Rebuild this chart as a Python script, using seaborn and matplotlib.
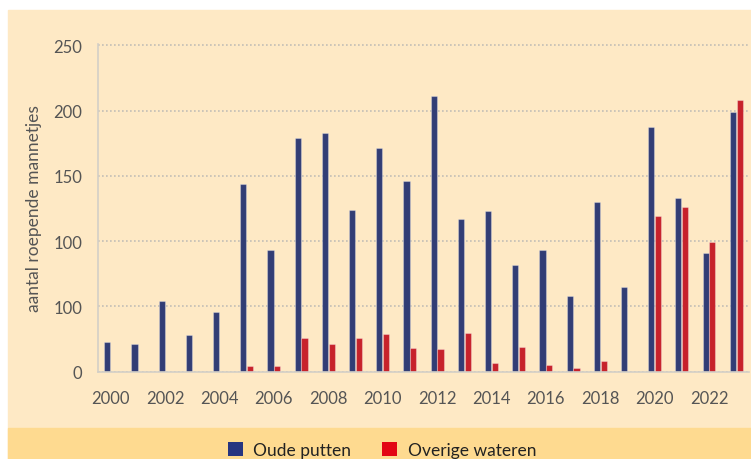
"""
Roepende mannetjes per jaar: oude putten vs overige wateren.
Writes out.png (751x460).
"""

import pandas as pd
import matplotlib
matplotlib.use("Agg")
import matplotlib.pyplot as plt
from matplotlib.patches import Rectangle, Patch
import seaborn as sns

YEARS = [str(y) for y in range(2000, 2024)]
OUDE_PUTTEN = [23, 21, 54, 28, 46, 144, 93, 179, 183, 124, 171, 146,
               211, 117, 123, 82, 93, 58, 130, 65, 187, 133, 91, 199]
OVERIGE_WATEREN = [0, 0, 0, 0, 0, 4, 4, 26, 21, 26, 29, 18,
                   17, 30, 7, 19, 5, 3, 8, 0, 119, 126, 99, 208]
SERIES = ["Oude putten", "Overige wateren"]
COLORS = ["#273580", "#E30613"]

YTICKS = [0, 50, 100, 150, 200, 250]
YTICK_LABELS = ["0", "100", "100", "150", "200", "250"]
XTICK_LABELS = YEARS[::2]

PANEL = "#FEE9C5"
BAND = "#FEDA90"
TEXT = "#555555"
GRID = "#C2BEB6"


def main():
    df = pd.DataFrame({
        "jaar": YEARS * 2,
        "serie": [SERIES[0]] * len(YEARS) + [SERIES[1]] * len(YEARS),
        "aantal": OUDE_PUTTEN + OVERIGE_WATEREN,
    })

    sns.set_style("white")
    plt.rcParams["font.family"] = ["Lato", "DejaVu Sans"]

    fig = plt.figure(figsize=(7.51, 4.60), dpi=100, facecolor="white")

    # background panel + legend band
    fig.patches.append(Rectangle((8 / 751, 0), 1, (460 - 11) / 460,
                                 transform=fig.transFigure, color=PANEL, zorder=-2))
    fig.patches.append(Rectangle((8 / 751, 0), 1, 31 / 460,
                                 transform=fig.transFigure, color=BAND, zorder=-1))

    ax = fig.add_axes([97.7 / 751, 87.3 / 460, (749 - 97.7) / 751, 327.8 / 460])
    ax.set_facecolor("none")

    sns.barplot(data=df, x="jaar", y="aantal", hue="serie", order=YEARS,
                hue_order=SERIES, palette=COLORS, width=0.5, gap=0.1,
                edgecolor=(1, 1, 1, 0.3), linewidth=0.8, ax=ax, legend=False)

    ax.set_xlim(-0.48, 23.47)
    ax.set_ylim(0, 251)
    ax.set_yticks(YTICKS)
    ax.set_yticklabels(YTICK_LABELS)
    ax.set_xticks(range(0, len(YEARS), 2))
    ax.set_xticklabels(XTICK_LABELS)
    ax.tick_params(axis="y", length=0, pad=11, labelsize=12, labelcolor=TEXT)
    ax.tick_params(axis="x", length=0, pad=13, labelsize=12, labelcolor=TEXT)
    ax.set_xlabel("")
    ax.set_ylabel("aantal roepende mannetjes", fontsize=12.5, color=TEXT, labelpad=8)

    ax.yaxis.grid(True, linestyle=(0, (1, 1.4)), color=GRID, linewidth=1.2)
    ax.set_axisbelow(True)
    for side in ("top", "right"):
        ax.spines[side].set_visible(False)
    for side in ("left", "bottom"):
        ax.spines[side].set_color("#D3CFC7")
        ax.spines[side].set_linewidth(1.2)

    handles = [Patch(facecolor=c, edgecolor="none") for c in COLORS]
    fig.legend(handles, SERIES, loc="center", bbox_to_anchor=(382 / 751, 9 / 460),
               ncol=2, frameon=False, fontsize=12.5, handlelength=0.85,
               handleheight=0.85, handletextpad=0.6, columnspacing=1.8,
               labelcolor="#222222")

    fig.savefig("out.png", dpi=100, facecolor="white")
    plt.close(fig)


if __name__ == "__main__":
    main()
